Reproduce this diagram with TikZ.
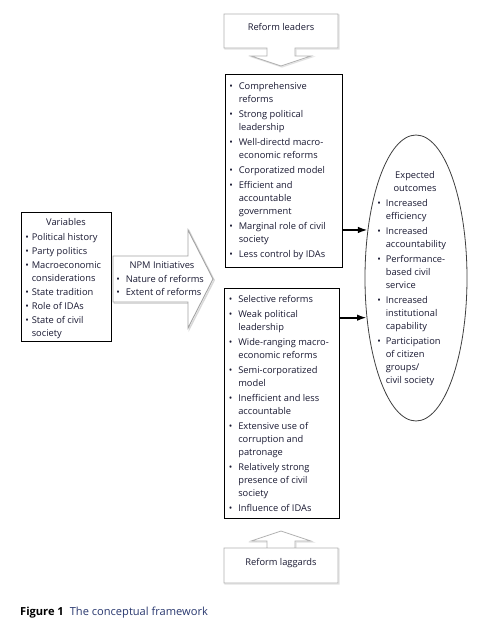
\documentclass[tikz,border=0pt]{standalone}
\usepackage{fontspec}
\setmainfont{Open Sans}
\usetikzlibrary{arrows.meta,shapes.geometric}
\definecolor{txt}{RGB}{25,25,50}
\definecolor{capblue}{RGB}{40,55,110}
\newcommand{\bl}{\textbullet}
\begin{document}
\begin{tikzpicture}[x=1pt,y=-1pt,
  box/.style={draw=black, line width=1pt, inner sep=0pt, outer sep=0pt},
  lst/.style={inner sep=0pt, outer sep=0pt, anchor=base west, text=txt, font=\fontsize{9.3}{13}\selectfont},
  ctr/.style={inner sep=0pt, outer sep=0pt, anchor=base, text=txt, font=\fontsize{9.3}{13}\selectfont},
  callout/.style={draw=gray!60, line width=0.8pt, fill=white},
  callshadow/.style={draw=gray!22, line width=1.2pt},
  conn/.style={line width=2.2pt, -{Latex[length=10pt,width=6.5pt]}}]
\useasboundingbox[fill=white] (0,0) rectangle (488,629);

% Variables box
\node[box, minimum width=90pt, minimum height=129pt] (var) at (66,276.5) {};
\node[ctr] (vtitle) at (66,225.5) {Variables};
\node[lst] (vlist) at (25.3,240.5) {\begin{tabular}[t]{@{}l@{\hspace{3pt}}l@{}}
\bl & Political history\\[1pt]
\bl & Party politics\\[1pt]
\bl & Macroeconomic\\
 & considerations\\[1pt]
\bl & State tradition\\[1pt]
\bl & Role of IDAs\\[1pt]
\bl & State of civil\\
 & society
\end{tabular}};

% NPM arrow
\def\npmpath{(113,256) -- (188,256) -- (188,230) -- (213,279) -- (188,328) -- (188,302) -- (113,302) -- cycle}
\draw[gray!30, line width=1.4pt, xshift=1.2pt, yshift=-1.2pt] \npmpath;
\draw[gray!72, line width=0.9pt, fill=white] \npmpath;
\node[ctr] (npmtitle) at (162,268) {NPM Initiatives};
\node[lst] (npmlist) at (116.3,282.5) {\begin{tabular}[t]{@{}l@{\hspace{6pt}}l@{}}
\bl & Nature of reforms\\
\bl & Extent of reforms
\end{tabular}};

% Reform leaders callout
\def\toppath{(224,14) -- (338,14) -- (338,48) -- (295,48) -- (295,56) -- (311,56) -- (281,66) -- (251,56) -- (267,56) -- (267,48) -- (224,48) -- cycle}
\draw[callshadow, xshift=1pt, yshift=-1pt] \toppath;
\draw[callout] \toppath;
\node[ctr] (leaders) at (281,30.5) {Reform leaders};

% Top box
\node[box, minimum width=117pt, minimum height=193pt] (topbox) at (283.5,170.5) {};
\node[lst] (toplist) at (229.3,89.5) {\begin{tabular}[t]{@{}l@{\hspace{6pt}}l@{}}
\bl & Comprehensive\\
 & reforms\\[2pt]
\bl & Strong political\\
 & leadership\\[2pt]
\bl & Well-directd macro-\\
 & economic reforms\\[2pt]
\bl & Corporatized model\\[2pt]
\bl & Efficient and\\
 & accountable\\
 & government\\[2pt]
\bl & Marginal role of civil\\
 & society\\[2pt]
\bl & Less control by IDAs
\end{tabular}};

% Bottom box
\node[box, minimum width=115pt, minimum height=230pt] (botbox) at (281.5,403) {};
\node[lst] (botlist) at (228.8,302.5) {\begin{tabular}[t]{@{}l@{\hspace{6pt}}l@{}}
\bl & Selective reforms\\[2pt]
\bl & Weak political\\
 & leadership\\[2pt]
\bl & Wide-ranging macro-\\
 & economic reforms\\[2pt]
\bl & Semi-corporatized\\
 & model\\[2pt]
\bl & Inefficient and less\\
 & accountable\\[2pt]
\bl & Extensive use of\\
 & corruption and\\
 & patronage\\[2pt]
\bl & Relatively strong\\
 & presence of civil\\
 & society\\[2pt]
\bl & Influence of IDAs
\end{tabular}};

% Reform laggards callout
\def\botpath{(224,548) -- (338,548) -- (338,583) -- (224,583) -- (224,548) -- (267,548) -- (267,541) -- (251,541) -- (281,531) -- (311,541) -- (295,541) -- (295,548) -- cycle}
\draw[callshadow, xshift=1pt, yshift=-1pt] \botpath;
\draw[callout] \botpath;
\node[ctr] (laggards) at (281,565.5) {Reform laggards};

% Outcomes ellipse
\node[ellipse, draw=black!75, line width=0.8pt, inner sep=0pt, outer sep=0pt,
  minimum width=102pt, minimum height=286pt] (ell) at (416,278) {};
\node[ctr] (etitle) at (415,178.5) {\begin{tabular}[t]{@{}c@{}}Expected\\ outcomes\end{tabular}};
\node[lst] (elist) at (377.3,206.5) {\begin{tabular}[t]{@{}l@{\hspace{5pt}}l@{}}
\bl & Increased\\
 & efficiency\\[2pt]
\bl & Increased\\
 & accountability\\[2pt]
\bl & Performance-\\
 & based civil\\
 & service\\[2pt]
\bl & Increased\\
 & institutional\\
 & capability\\[2pt]
\bl & Participation\\
 & of citizen\\
 & groups/\\
 & civil society
\end{tabular}};

% Connectors
\coordinate (e1) at (ell.135.7);
\coordinate (e2) at (ell.219.3);
\draw[conn] (topbox.east |- e1) -- (e1);
\draw[conn] (botbox.east |- e2) -- (e2);

% Caption
\node[inner sep=0pt, anchor=base west, font=\fontsize{11.1}{13}\selectfont] (cap) at (20,615.5)
  {\textbf{Figure 1}\hspace{6pt}\textcolor{capblue}{The conceptual framework}};
\end{tikzpicture}
\end{document}
